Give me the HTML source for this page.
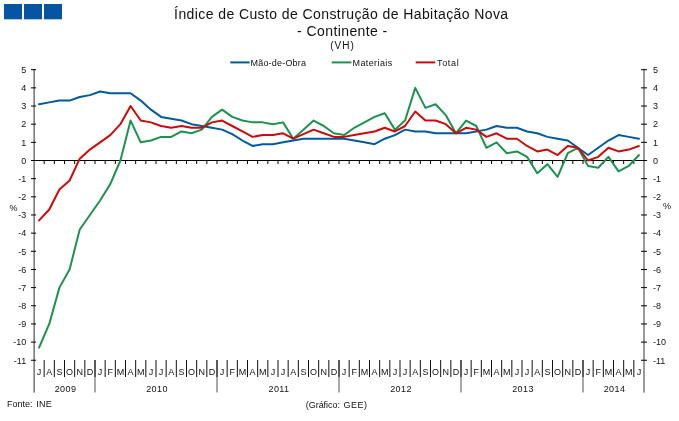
<!DOCTYPE html>
<html><head><meta charset="utf-8"><title>Índice de Custo de Construção de Habitação Nova</title>
<style>
html,body{margin:0;padding:0;background:#fff;}
body{width:679px;height:421px;overflow:hidden;position:relative;}
svg{position:absolute;left:0;top:0;will-change:transform;}
text{font-family:'Liberation Sans',Arial,sans-serif;fill:#111;}
</style></head><body>
<svg width="679" height="421" viewBox="0 0 679 421">

<rect x="4" y="4" width="18" height="15.3" fill="#0755a2"/>
<rect x="24" y="4" width="18" height="15.3" fill="#0755a2"/>
<rect x="44" y="4" width="18" height="15.3" fill="#0755a2"/>
<text x="174.1" y="18.7" font-size="14" letter-spacing="0.41">Índice de Custo de Construção de Habitação Nova</text>
<text x="297.1" y="35.8" font-size="14" letter-spacing="0.41">- Continente -</text>
<text x="330.2" y="48.6" font-size="10" letter-spacing="1.0">(VH)</text>
<line x1="230.3" y1="62.4" x2="249.6" y2="62.4" stroke="#005a9b" stroke-width="2"/>
<text x="250.5" y="65.7" font-size="9" letter-spacing="0.2">Mão-de-Obra</text>
<line x1="331.7" y1="62.4" x2="351.4" y2="62.4" stroke="#1e9150" stroke-width="2"/>
<text x="352.5" y="65.7" font-size="9" letter-spacing="0.4">Materiais</text>
<line x1="415.7" y1="62.4" x2="435.2" y2="62.4" stroke="#c80c0c" stroke-width="2"/>
<text x="437.0" y="65.7" font-size="9" letter-spacing="0.68">Total</text>
<rect x="33" y="69" width="1" height="323.6" fill="#aaa"/>
<rect x="34" y="69" width="1" height="323.6" fill="#808080"/>
<rect x="643" y="69" width="2" height="323.6" fill="#999"/>
<line x1="31" y1="69.70" x2="36" y2="69.70" stroke="#000" stroke-width="1"/>
<line x1="641" y1="69.70" x2="647" y2="69.70" stroke="#000" stroke-width="1"/>
<text x="26.2" y="73.00" font-size="9" text-anchor="end">5</text>
<text x="653" y="73.00" font-size="9">5</text>
<line x1="31" y1="87.86" x2="36" y2="87.86" stroke="#000" stroke-width="1"/>
<line x1="641" y1="87.86" x2="647" y2="87.86" stroke="#000" stroke-width="1"/>
<text x="26.2" y="91.16" font-size="9" text-anchor="end">4</text>
<text x="653" y="91.16" font-size="9">4</text>
<line x1="31" y1="106.02" x2="36" y2="106.02" stroke="#000" stroke-width="1"/>
<line x1="641" y1="106.02" x2="647" y2="106.02" stroke="#000" stroke-width="1"/>
<text x="26.2" y="109.32" font-size="9" text-anchor="end">3</text>
<text x="653" y="109.32" font-size="9">3</text>
<line x1="31" y1="124.18" x2="36" y2="124.18" stroke="#000" stroke-width="1"/>
<line x1="641" y1="124.18" x2="647" y2="124.18" stroke="#000" stroke-width="1"/>
<text x="26.2" y="127.48" font-size="9" text-anchor="end">2</text>
<text x="653" y="127.48" font-size="9">2</text>
<line x1="31" y1="142.34" x2="36" y2="142.34" stroke="#000" stroke-width="1"/>
<line x1="641" y1="142.34" x2="647" y2="142.34" stroke="#000" stroke-width="1"/>
<text x="26.2" y="145.64" font-size="9" text-anchor="end">1</text>
<text x="653" y="145.64" font-size="9">1</text>
<line x1="31" y1="160.50" x2="36" y2="160.50" stroke="#000" stroke-width="1"/>
<line x1="641" y1="160.50" x2="647" y2="160.50" stroke="#000" stroke-width="1"/>
<text x="26.2" y="163.80" font-size="9" text-anchor="end">0</text>
<text x="653" y="163.80" font-size="9">0</text>
<line x1="31" y1="178.66" x2="36" y2="178.66" stroke="#000" stroke-width="1"/>
<line x1="641" y1="178.66" x2="647" y2="178.66" stroke="#000" stroke-width="1"/>
<text x="26.2" y="181.96" font-size="9" text-anchor="end">-1</text>
<text x="653" y="181.96" font-size="9">-1</text>
<line x1="31" y1="196.82" x2="36" y2="196.82" stroke="#000" stroke-width="1"/>
<line x1="641" y1="196.82" x2="647" y2="196.82" stroke="#000" stroke-width="1"/>
<text x="26.2" y="200.12" font-size="9" text-anchor="end">-2</text>
<text x="653" y="200.12" font-size="9">-2</text>
<line x1="31" y1="214.98" x2="36" y2="214.98" stroke="#000" stroke-width="1"/>
<line x1="641" y1="214.98" x2="647" y2="214.98" stroke="#000" stroke-width="1"/>
<text x="26.2" y="218.28" font-size="9" text-anchor="end">-3</text>
<text x="653" y="218.28" font-size="9">-3</text>
<line x1="31" y1="233.14" x2="36" y2="233.14" stroke="#000" stroke-width="1"/>
<line x1="641" y1="233.14" x2="647" y2="233.14" stroke="#000" stroke-width="1"/>
<text x="26.2" y="236.44" font-size="9" text-anchor="end">-4</text>
<text x="653" y="236.44" font-size="9">-4</text>
<line x1="31" y1="251.30" x2="36" y2="251.30" stroke="#000" stroke-width="1"/>
<line x1="641" y1="251.30" x2="647" y2="251.30" stroke="#000" stroke-width="1"/>
<text x="26.2" y="254.60" font-size="9" text-anchor="end">-5</text>
<text x="653" y="254.60" font-size="9">-5</text>
<line x1="31" y1="269.46" x2="36" y2="269.46" stroke="#000" stroke-width="1"/>
<line x1="641" y1="269.46" x2="647" y2="269.46" stroke="#000" stroke-width="1"/>
<text x="26.2" y="272.76" font-size="9" text-anchor="end">-6</text>
<text x="653" y="272.76" font-size="9">-6</text>
<line x1="31" y1="287.62" x2="36" y2="287.62" stroke="#000" stroke-width="1"/>
<line x1="641" y1="287.62" x2="647" y2="287.62" stroke="#000" stroke-width="1"/>
<text x="26.2" y="290.92" font-size="9" text-anchor="end">-7</text>
<text x="653" y="290.92" font-size="9">-7</text>
<line x1="31" y1="305.78" x2="36" y2="305.78" stroke="#000" stroke-width="1"/>
<line x1="641" y1="305.78" x2="647" y2="305.78" stroke="#000" stroke-width="1"/>
<text x="26.2" y="309.08" font-size="9" text-anchor="end">-8</text>
<text x="653" y="309.08" font-size="9">-8</text>
<line x1="31" y1="323.94" x2="36" y2="323.94" stroke="#000" stroke-width="1"/>
<line x1="641" y1="323.94" x2="647" y2="323.94" stroke="#000" stroke-width="1"/>
<text x="26.2" y="327.24" font-size="9" text-anchor="end">-9</text>
<text x="653" y="327.24" font-size="9">-9</text>
<line x1="31" y1="342.10" x2="36" y2="342.10" stroke="#000" stroke-width="1"/>
<line x1="641" y1="342.10" x2="647" y2="342.10" stroke="#000" stroke-width="1"/>
<text x="26.2" y="345.40" font-size="9" text-anchor="end">-10</text>
<text x="653" y="345.40" font-size="9">-10</text>
<line x1="31" y1="360.26" x2="36" y2="360.26" stroke="#000" stroke-width="1"/>
<line x1="641" y1="360.26" x2="647" y2="360.26" stroke="#000" stroke-width="1"/>
<text x="26.2" y="363.56" font-size="9" text-anchor="end">-11</text>
<text x="653" y="363.56" font-size="9">-11</text>
<text x="9.5" y="211" font-size="9">%</text>
<text x="663" y="209" font-size="9">%</text>
<rect x="31" y="160" width="616" height="1" fill="#000"/>
<line x1="44.17" y1="160.50" x2="44.17" y2="164.00" stroke="#000" stroke-width="1"/>
<line x1="54.33" y1="160.50" x2="54.33" y2="164.00" stroke="#000" stroke-width="1"/>
<line x1="64.50" y1="160.50" x2="64.50" y2="164.00" stroke="#000" stroke-width="1"/>
<line x1="74.67" y1="160.50" x2="74.67" y2="164.00" stroke="#000" stroke-width="1"/>
<line x1="84.83" y1="160.50" x2="84.83" y2="164.00" stroke="#000" stroke-width="1"/>
<line x1="95.00" y1="160.50" x2="95.00" y2="164.00" stroke="#000" stroke-width="1"/>
<line x1="105.17" y1="160.50" x2="105.17" y2="164.00" stroke="#000" stroke-width="1"/>
<line x1="115.33" y1="160.50" x2="115.33" y2="164.00" stroke="#000" stroke-width="1"/>
<line x1="125.50" y1="160.50" x2="125.50" y2="164.00" stroke="#000" stroke-width="1"/>
<line x1="135.67" y1="160.50" x2="135.67" y2="164.00" stroke="#000" stroke-width="1"/>
<line x1="145.83" y1="160.50" x2="145.83" y2="164.00" stroke="#000" stroke-width="1"/>
<line x1="156.00" y1="160.50" x2="156.00" y2="164.00" stroke="#000" stroke-width="1"/>
<line x1="166.17" y1="160.50" x2="166.17" y2="164.00" stroke="#000" stroke-width="1"/>
<line x1="176.33" y1="160.50" x2="176.33" y2="164.00" stroke="#000" stroke-width="1"/>
<line x1="186.50" y1="160.50" x2="186.50" y2="164.00" stroke="#000" stroke-width="1"/>
<line x1="196.67" y1="160.50" x2="196.67" y2="164.00" stroke="#000" stroke-width="1"/>
<line x1="206.83" y1="160.50" x2="206.83" y2="164.00" stroke="#000" stroke-width="1"/>
<line x1="217.00" y1="160.50" x2="217.00" y2="164.00" stroke="#000" stroke-width="1"/>
<line x1="227.17" y1="160.50" x2="227.17" y2="164.00" stroke="#000" stroke-width="1"/>
<line x1="237.33" y1="160.50" x2="237.33" y2="164.00" stroke="#000" stroke-width="1"/>
<line x1="247.50" y1="160.50" x2="247.50" y2="164.00" stroke="#000" stroke-width="1"/>
<line x1="257.67" y1="160.50" x2="257.67" y2="164.00" stroke="#000" stroke-width="1"/>
<line x1="267.83" y1="160.50" x2="267.83" y2="164.00" stroke="#000" stroke-width="1"/>
<line x1="278.00" y1="160.50" x2="278.00" y2="164.00" stroke="#000" stroke-width="1"/>
<line x1="288.17" y1="160.50" x2="288.17" y2="164.00" stroke="#000" stroke-width="1"/>
<line x1="298.33" y1="160.50" x2="298.33" y2="164.00" stroke="#000" stroke-width="1"/>
<line x1="308.50" y1="160.50" x2="308.50" y2="164.00" stroke="#000" stroke-width="1"/>
<line x1="318.67" y1="160.50" x2="318.67" y2="164.00" stroke="#000" stroke-width="1"/>
<line x1="328.83" y1="160.50" x2="328.83" y2="164.00" stroke="#000" stroke-width="1"/>
<line x1="339.00" y1="160.50" x2="339.00" y2="164.00" stroke="#000" stroke-width="1"/>
<line x1="349.17" y1="160.50" x2="349.17" y2="164.00" stroke="#000" stroke-width="1"/>
<line x1="359.33" y1="160.50" x2="359.33" y2="164.00" stroke="#000" stroke-width="1"/>
<line x1="369.50" y1="160.50" x2="369.50" y2="164.00" stroke="#000" stroke-width="1"/>
<line x1="379.67" y1="160.50" x2="379.67" y2="164.00" stroke="#000" stroke-width="1"/>
<line x1="389.83" y1="160.50" x2="389.83" y2="164.00" stroke="#000" stroke-width="1"/>
<line x1="400.00" y1="160.50" x2="400.00" y2="164.00" stroke="#000" stroke-width="1"/>
<line x1="410.17" y1="160.50" x2="410.17" y2="164.00" stroke="#000" stroke-width="1"/>
<line x1="420.33" y1="160.50" x2="420.33" y2="164.00" stroke="#000" stroke-width="1"/>
<line x1="430.50" y1="160.50" x2="430.50" y2="164.00" stroke="#000" stroke-width="1"/>
<line x1="440.67" y1="160.50" x2="440.67" y2="164.00" stroke="#000" stroke-width="1"/>
<line x1="450.83" y1="160.50" x2="450.83" y2="164.00" stroke="#000" stroke-width="1"/>
<line x1="461.00" y1="160.50" x2="461.00" y2="164.00" stroke="#000" stroke-width="1"/>
<line x1="471.17" y1="160.50" x2="471.17" y2="164.00" stroke="#000" stroke-width="1"/>
<line x1="481.33" y1="160.50" x2="481.33" y2="164.00" stroke="#000" stroke-width="1"/>
<line x1="491.50" y1="160.50" x2="491.50" y2="164.00" stroke="#000" stroke-width="1"/>
<line x1="501.67" y1="160.50" x2="501.67" y2="164.00" stroke="#000" stroke-width="1"/>
<line x1="511.83" y1="160.50" x2="511.83" y2="164.00" stroke="#000" stroke-width="1"/>
<line x1="522.00" y1="160.50" x2="522.00" y2="164.00" stroke="#000" stroke-width="1"/>
<line x1="532.17" y1="160.50" x2="532.17" y2="164.00" stroke="#000" stroke-width="1"/>
<line x1="542.33" y1="160.50" x2="542.33" y2="164.00" stroke="#000" stroke-width="1"/>
<line x1="552.50" y1="160.50" x2="552.50" y2="164.00" stroke="#000" stroke-width="1"/>
<line x1="562.67" y1="160.50" x2="562.67" y2="164.00" stroke="#000" stroke-width="1"/>
<line x1="572.83" y1="160.50" x2="572.83" y2="164.00" stroke="#000" stroke-width="1"/>
<line x1="583.00" y1="160.50" x2="583.00" y2="164.00" stroke="#000" stroke-width="1"/>
<line x1="593.17" y1="160.50" x2="593.17" y2="164.00" stroke="#000" stroke-width="1"/>
<line x1="603.33" y1="160.50" x2="603.33" y2="164.00" stroke="#000" stroke-width="1"/>
<line x1="613.50" y1="160.50" x2="613.50" y2="164.00" stroke="#000" stroke-width="1"/>
<line x1="623.67" y1="160.50" x2="623.67" y2="164.00" stroke="#000" stroke-width="1"/>
<line x1="633.83" y1="160.50" x2="633.83" y2="164.00" stroke="#000" stroke-width="1"/>
<line x1="44.17" y1="360" x2="44.17" y2="377" stroke="#111" stroke-width="1"/>
<line x1="54.33" y1="360" x2="54.33" y2="377" stroke="#111" stroke-width="1"/>
<line x1="64.50" y1="360" x2="64.50" y2="377" stroke="#111" stroke-width="1"/>
<line x1="74.67" y1="360" x2="74.67" y2="377" stroke="#111" stroke-width="1"/>
<line x1="84.83" y1="360" x2="84.83" y2="377" stroke="#111" stroke-width="1"/>
<line x1="95.00" y1="360" x2="95.00" y2="392.6" stroke="#8c8c8c" stroke-width="1.5"/>
<line x1="95.00" y1="360" x2="95.00" y2="377" stroke="#111" stroke-width="1"/>
<line x1="105.17" y1="360" x2="105.17" y2="377" stroke="#111" stroke-width="1"/>
<line x1="115.33" y1="360" x2="115.33" y2="377" stroke="#111" stroke-width="1"/>
<line x1="125.50" y1="360" x2="125.50" y2="377" stroke="#111" stroke-width="1"/>
<line x1="135.67" y1="360" x2="135.67" y2="377" stroke="#111" stroke-width="1"/>
<line x1="145.83" y1="360" x2="145.83" y2="377" stroke="#111" stroke-width="1"/>
<line x1="156.00" y1="360" x2="156.00" y2="377" stroke="#111" stroke-width="1"/>
<line x1="166.17" y1="360" x2="166.17" y2="377" stroke="#111" stroke-width="1"/>
<line x1="176.33" y1="360" x2="176.33" y2="377" stroke="#111" stroke-width="1"/>
<line x1="186.50" y1="360" x2="186.50" y2="377" stroke="#111" stroke-width="1"/>
<line x1="196.67" y1="360" x2="196.67" y2="377" stroke="#111" stroke-width="1"/>
<line x1="206.83" y1="360" x2="206.83" y2="377" stroke="#111" stroke-width="1"/>
<line x1="217.00" y1="360" x2="217.00" y2="392.6" stroke="#8c8c8c" stroke-width="1.5"/>
<line x1="217.00" y1="360" x2="217.00" y2="377" stroke="#111" stroke-width="1"/>
<line x1="227.17" y1="360" x2="227.17" y2="377" stroke="#111" stroke-width="1"/>
<line x1="237.33" y1="360" x2="237.33" y2="377" stroke="#111" stroke-width="1"/>
<line x1="247.50" y1="360" x2="247.50" y2="377" stroke="#111" stroke-width="1"/>
<line x1="257.67" y1="360" x2="257.67" y2="377" stroke="#111" stroke-width="1"/>
<line x1="267.83" y1="360" x2="267.83" y2="377" stroke="#111" stroke-width="1"/>
<line x1="278.00" y1="360" x2="278.00" y2="377" stroke="#111" stroke-width="1"/>
<line x1="288.17" y1="360" x2="288.17" y2="377" stroke="#111" stroke-width="1"/>
<line x1="298.33" y1="360" x2="298.33" y2="377" stroke="#111" stroke-width="1"/>
<line x1="308.50" y1="360" x2="308.50" y2="377" stroke="#111" stroke-width="1"/>
<line x1="318.67" y1="360" x2="318.67" y2="377" stroke="#111" stroke-width="1"/>
<line x1="328.83" y1="360" x2="328.83" y2="377" stroke="#111" stroke-width="1"/>
<line x1="339.00" y1="360" x2="339.00" y2="392.6" stroke="#8c8c8c" stroke-width="1.5"/>
<line x1="339.00" y1="360" x2="339.00" y2="377" stroke="#111" stroke-width="1"/>
<line x1="349.17" y1="360" x2="349.17" y2="377" stroke="#111" stroke-width="1"/>
<line x1="359.33" y1="360" x2="359.33" y2="377" stroke="#111" stroke-width="1"/>
<line x1="369.50" y1="360" x2="369.50" y2="377" stroke="#111" stroke-width="1"/>
<line x1="379.67" y1="360" x2="379.67" y2="377" stroke="#111" stroke-width="1"/>
<line x1="389.83" y1="360" x2="389.83" y2="377" stroke="#111" stroke-width="1"/>
<line x1="400.00" y1="360" x2="400.00" y2="377" stroke="#111" stroke-width="1"/>
<line x1="410.17" y1="360" x2="410.17" y2="377" stroke="#111" stroke-width="1"/>
<line x1="420.33" y1="360" x2="420.33" y2="377" stroke="#111" stroke-width="1"/>
<line x1="430.50" y1="360" x2="430.50" y2="377" stroke="#111" stroke-width="1"/>
<line x1="440.67" y1="360" x2="440.67" y2="377" stroke="#111" stroke-width="1"/>
<line x1="450.83" y1="360" x2="450.83" y2="377" stroke="#111" stroke-width="1"/>
<line x1="461.00" y1="360" x2="461.00" y2="392.6" stroke="#8c8c8c" stroke-width="1.5"/>
<line x1="461.00" y1="360" x2="461.00" y2="377" stroke="#111" stroke-width="1"/>
<line x1="471.17" y1="360" x2="471.17" y2="377" stroke="#111" stroke-width="1"/>
<line x1="481.33" y1="360" x2="481.33" y2="377" stroke="#111" stroke-width="1"/>
<line x1="491.50" y1="360" x2="491.50" y2="377" stroke="#111" stroke-width="1"/>
<line x1="501.67" y1="360" x2="501.67" y2="377" stroke="#111" stroke-width="1"/>
<line x1="511.83" y1="360" x2="511.83" y2="377" stroke="#111" stroke-width="1"/>
<line x1="522.00" y1="360" x2="522.00" y2="377" stroke="#111" stroke-width="1"/>
<line x1="532.17" y1="360" x2="532.17" y2="377" stroke="#111" stroke-width="1"/>
<line x1="542.33" y1="360" x2="542.33" y2="377" stroke="#111" stroke-width="1"/>
<line x1="552.50" y1="360" x2="552.50" y2="377" stroke="#111" stroke-width="1"/>
<line x1="562.67" y1="360" x2="562.67" y2="377" stroke="#111" stroke-width="1"/>
<line x1="572.83" y1="360" x2="572.83" y2="377" stroke="#111" stroke-width="1"/>
<line x1="583.00" y1="360" x2="583.00" y2="392.6" stroke="#8c8c8c" stroke-width="1.5"/>
<line x1="583.00" y1="360" x2="583.00" y2="377" stroke="#111" stroke-width="1"/>
<line x1="593.17" y1="360" x2="593.17" y2="377" stroke="#111" stroke-width="1"/>
<line x1="603.33" y1="360" x2="603.33" y2="377" stroke="#111" stroke-width="1"/>
<line x1="613.50" y1="360" x2="613.50" y2="377" stroke="#111" stroke-width="1"/>
<line x1="623.67" y1="360" x2="623.67" y2="377" stroke="#111" stroke-width="1"/>
<line x1="633.83" y1="360" x2="633.83" y2="377" stroke="#111" stroke-width="1"/>
<text x="39.08" y="375" font-size="9" text-anchor="middle">J</text>
<text x="49.25" y="375" font-size="9" text-anchor="middle">A</text>
<text x="59.42" y="375" font-size="9" text-anchor="middle">S</text>
<text x="69.58" y="375" font-size="9" text-anchor="middle">O</text>
<text x="79.75" y="375" font-size="9" text-anchor="middle">N</text>
<text x="89.92" y="375" font-size="9" text-anchor="middle">D</text>
<text x="100.08" y="375" font-size="9" text-anchor="middle">J</text>
<text x="110.25" y="375" font-size="9" text-anchor="middle">F</text>
<text x="120.42" y="375" font-size="9" text-anchor="middle">M</text>
<text x="130.58" y="375" font-size="9" text-anchor="middle">A</text>
<text x="140.75" y="375" font-size="9" text-anchor="middle">M</text>
<text x="150.92" y="375" font-size="9" text-anchor="middle">J</text>
<text x="161.08" y="375" font-size="9" text-anchor="middle">J</text>
<text x="171.25" y="375" font-size="9" text-anchor="middle">A</text>
<text x="181.42" y="375" font-size="9" text-anchor="middle">S</text>
<text x="191.58" y="375" font-size="9" text-anchor="middle">O</text>
<text x="201.75" y="375" font-size="9" text-anchor="middle">N</text>
<text x="211.92" y="375" font-size="9" text-anchor="middle">D</text>
<text x="222.08" y="375" font-size="9" text-anchor="middle">J</text>
<text x="232.25" y="375" font-size="9" text-anchor="middle">F</text>
<text x="242.42" y="375" font-size="9" text-anchor="middle">M</text>
<text x="252.58" y="375" font-size="9" text-anchor="middle">A</text>
<text x="262.75" y="375" font-size="9" text-anchor="middle">M</text>
<text x="272.92" y="375" font-size="9" text-anchor="middle">J</text>
<text x="283.08" y="375" font-size="9" text-anchor="middle">J</text>
<text x="293.25" y="375" font-size="9" text-anchor="middle">A</text>
<text x="303.42" y="375" font-size="9" text-anchor="middle">S</text>
<text x="313.58" y="375" font-size="9" text-anchor="middle">O</text>
<text x="323.75" y="375" font-size="9" text-anchor="middle">N</text>
<text x="333.92" y="375" font-size="9" text-anchor="middle">D</text>
<text x="344.08" y="375" font-size="9" text-anchor="middle">J</text>
<text x="354.25" y="375" font-size="9" text-anchor="middle">F</text>
<text x="364.42" y="375" font-size="9" text-anchor="middle">M</text>
<text x="374.58" y="375" font-size="9" text-anchor="middle">A</text>
<text x="384.75" y="375" font-size="9" text-anchor="middle">M</text>
<text x="394.92" y="375" font-size="9" text-anchor="middle">J</text>
<text x="405.08" y="375" font-size="9" text-anchor="middle">J</text>
<text x="415.25" y="375" font-size="9" text-anchor="middle">A</text>
<text x="425.42" y="375" font-size="9" text-anchor="middle">S</text>
<text x="435.58" y="375" font-size="9" text-anchor="middle">O</text>
<text x="445.75" y="375" font-size="9" text-anchor="middle">N</text>
<text x="455.92" y="375" font-size="9" text-anchor="middle">D</text>
<text x="466.08" y="375" font-size="9" text-anchor="middle">J</text>
<text x="476.25" y="375" font-size="9" text-anchor="middle">F</text>
<text x="486.42" y="375" font-size="9" text-anchor="middle">M</text>
<text x="496.58" y="375" font-size="9" text-anchor="middle">A</text>
<text x="506.75" y="375" font-size="9" text-anchor="middle">M</text>
<text x="516.92" y="375" font-size="9" text-anchor="middle">J</text>
<text x="527.08" y="375" font-size="9" text-anchor="middle">J</text>
<text x="537.25" y="375" font-size="9" text-anchor="middle">A</text>
<text x="547.42" y="375" font-size="9" text-anchor="middle">S</text>
<text x="557.58" y="375" font-size="9" text-anchor="middle">O</text>
<text x="567.75" y="375" font-size="9" text-anchor="middle">N</text>
<text x="577.92" y="375" font-size="9" text-anchor="middle">D</text>
<text x="588.08" y="375" font-size="9" text-anchor="middle">J</text>
<text x="598.25" y="375" font-size="9" text-anchor="middle">F</text>
<text x="608.42" y="375" font-size="9" text-anchor="middle">M</text>
<text x="618.58" y="375" font-size="9" text-anchor="middle">A</text>
<text x="628.75" y="375" font-size="9" text-anchor="middle">M</text>
<text x="638.92" y="375" font-size="9" text-anchor="middle">J</text>
<text x="65.50" y="391.8" font-size="9" text-anchor="middle" letter-spacing="0.4">2009</text>
<text x="157.00" y="391.8" font-size="9" text-anchor="middle" letter-spacing="0.4">2010</text>
<text x="279.00" y="391.8" font-size="9" text-anchor="middle" letter-spacing="0.4">2011</text>
<text x="401.00" y="391.8" font-size="9" text-anchor="middle" letter-spacing="0.4">2012</text>
<text x="523.00" y="391.8" font-size="9" text-anchor="middle" letter-spacing="0.4">2013</text>
<text x="614.50" y="391.8" font-size="9" text-anchor="middle" letter-spacing="0.4">2014</text>
<text x="7" y="407.1" font-size="9">Fonte:</text>
<text x="36.3" y="407.1" font-size="9" letter-spacing="0.2">INE</text>
<text x="305.8" y="408.2" font-size="9" letter-spacing="-0.05">(Gráfico:</text>
<text x="343.6" y="408.2" font-size="9" letter-spacing="0.5">GEE)</text>
<polyline points="39.08,104.20 49.25,102.39 59.42,100.57 69.58,100.57 79.75,96.94 89.92,95.12 100.08,91.49 110.25,93.31 120.42,93.31 130.58,93.31 140.75,100.57 150.92,109.65 161.08,116.92 171.25,118.73 181.42,120.55 191.58,124.18 201.75,126.00 211.92,127.81 222.08,129.63 232.25,134.17 242.42,140.52 252.58,145.97 262.75,144.16 272.92,144.16 283.08,142.34 293.25,140.52 303.42,138.71 313.58,138.71 323.75,138.71 333.92,138.71 344.08,138.71 354.25,140.52 364.42,142.34 374.58,144.16 384.75,138.71 394.92,135.08 405.08,129.63 415.25,131.44 425.42,131.44 435.58,133.26 445.75,133.26 455.92,133.26 466.08,133.26 476.25,131.44 486.42,129.63 496.58,126.00 506.75,127.81 516.92,127.81 527.08,131.44 537.25,133.26 547.42,136.89 557.58,138.71 567.75,140.52 577.92,147.79 588.08,155.05 598.25,147.79 608.42,140.52 618.58,135.08 628.75,136.89 638.92,138.71" fill="none" stroke="#005a9b" stroke-width="2" stroke-linejoin="round" stroke-linecap="round"/>
<polyline points="39.08,347.55 49.25,323.94 59.42,287.62 69.58,269.46 79.75,229.51 89.92,214.98 100.08,200.45 110.25,184.11 120.42,160.50 130.58,120.55 140.75,142.34 150.92,140.52 161.08,136.89 171.25,136.89 181.42,131.44 191.58,133.26 201.75,129.63 211.92,116.92 222.08,109.65 232.25,116.92 242.42,120.55 252.58,122.36 262.75,122.36 272.92,124.18 283.08,122.36 293.25,138.71 303.42,129.63 313.58,120.55 323.75,126.00 333.92,133.26 344.08,135.08 354.25,127.81 364.42,122.36 374.58,116.92 384.75,113.28 394.92,129.63 405.08,120.55 415.25,87.86 425.42,107.84 435.58,104.20 445.75,115.10 455.92,133.26 466.08,120.55 476.25,126.00 486.42,147.79 496.58,142.34 506.75,153.24 516.92,151.42 527.08,156.87 537.25,173.21 547.42,164.13 557.58,176.84 567.75,153.24 577.92,147.79 588.08,165.95 598.25,167.76 608.42,156.87 618.58,171.40 628.75,165.95 638.92,155.05" fill="none" stroke="#1e9150" stroke-width="2" stroke-linejoin="round" stroke-linecap="round"/>
<polyline points="39.08,220.43 49.25,209.53 59.42,189.56 69.58,180.48 79.75,158.68 89.92,149.60 100.08,142.34 110.25,135.08 120.42,124.18 130.58,106.02 140.75,120.55 150.92,122.36 161.08,126.00 171.25,127.81 181.42,126.00 191.58,127.81 201.75,127.81 211.92,122.36 222.08,120.55 232.25,126.00 242.42,131.44 252.58,136.89 262.75,135.08 272.92,135.08 283.08,133.26 293.25,138.71 303.42,134.17 313.58,129.63 323.75,133.26 333.92,136.89 344.08,136.89 354.25,135.08 364.42,133.26 374.58,131.44 384.75,127.81 394.92,131.44 405.08,126.00 415.25,111.47 425.42,120.55 435.58,120.55 445.75,124.18 455.92,133.26 466.08,127.81 476.25,129.63 486.42,136.89 496.58,133.26 506.75,138.71 516.92,138.71 527.08,145.97 537.25,151.42 547.42,149.60 557.58,155.05 567.75,145.97 577.92,147.79 588.08,160.50 598.25,156.87 608.42,147.79 618.58,151.42 628.75,149.60 638.92,145.97" fill="none" stroke="#c80c0c" stroke-width="2" stroke-linejoin="round" stroke-linecap="round"/>
</svg>
</body></html>
